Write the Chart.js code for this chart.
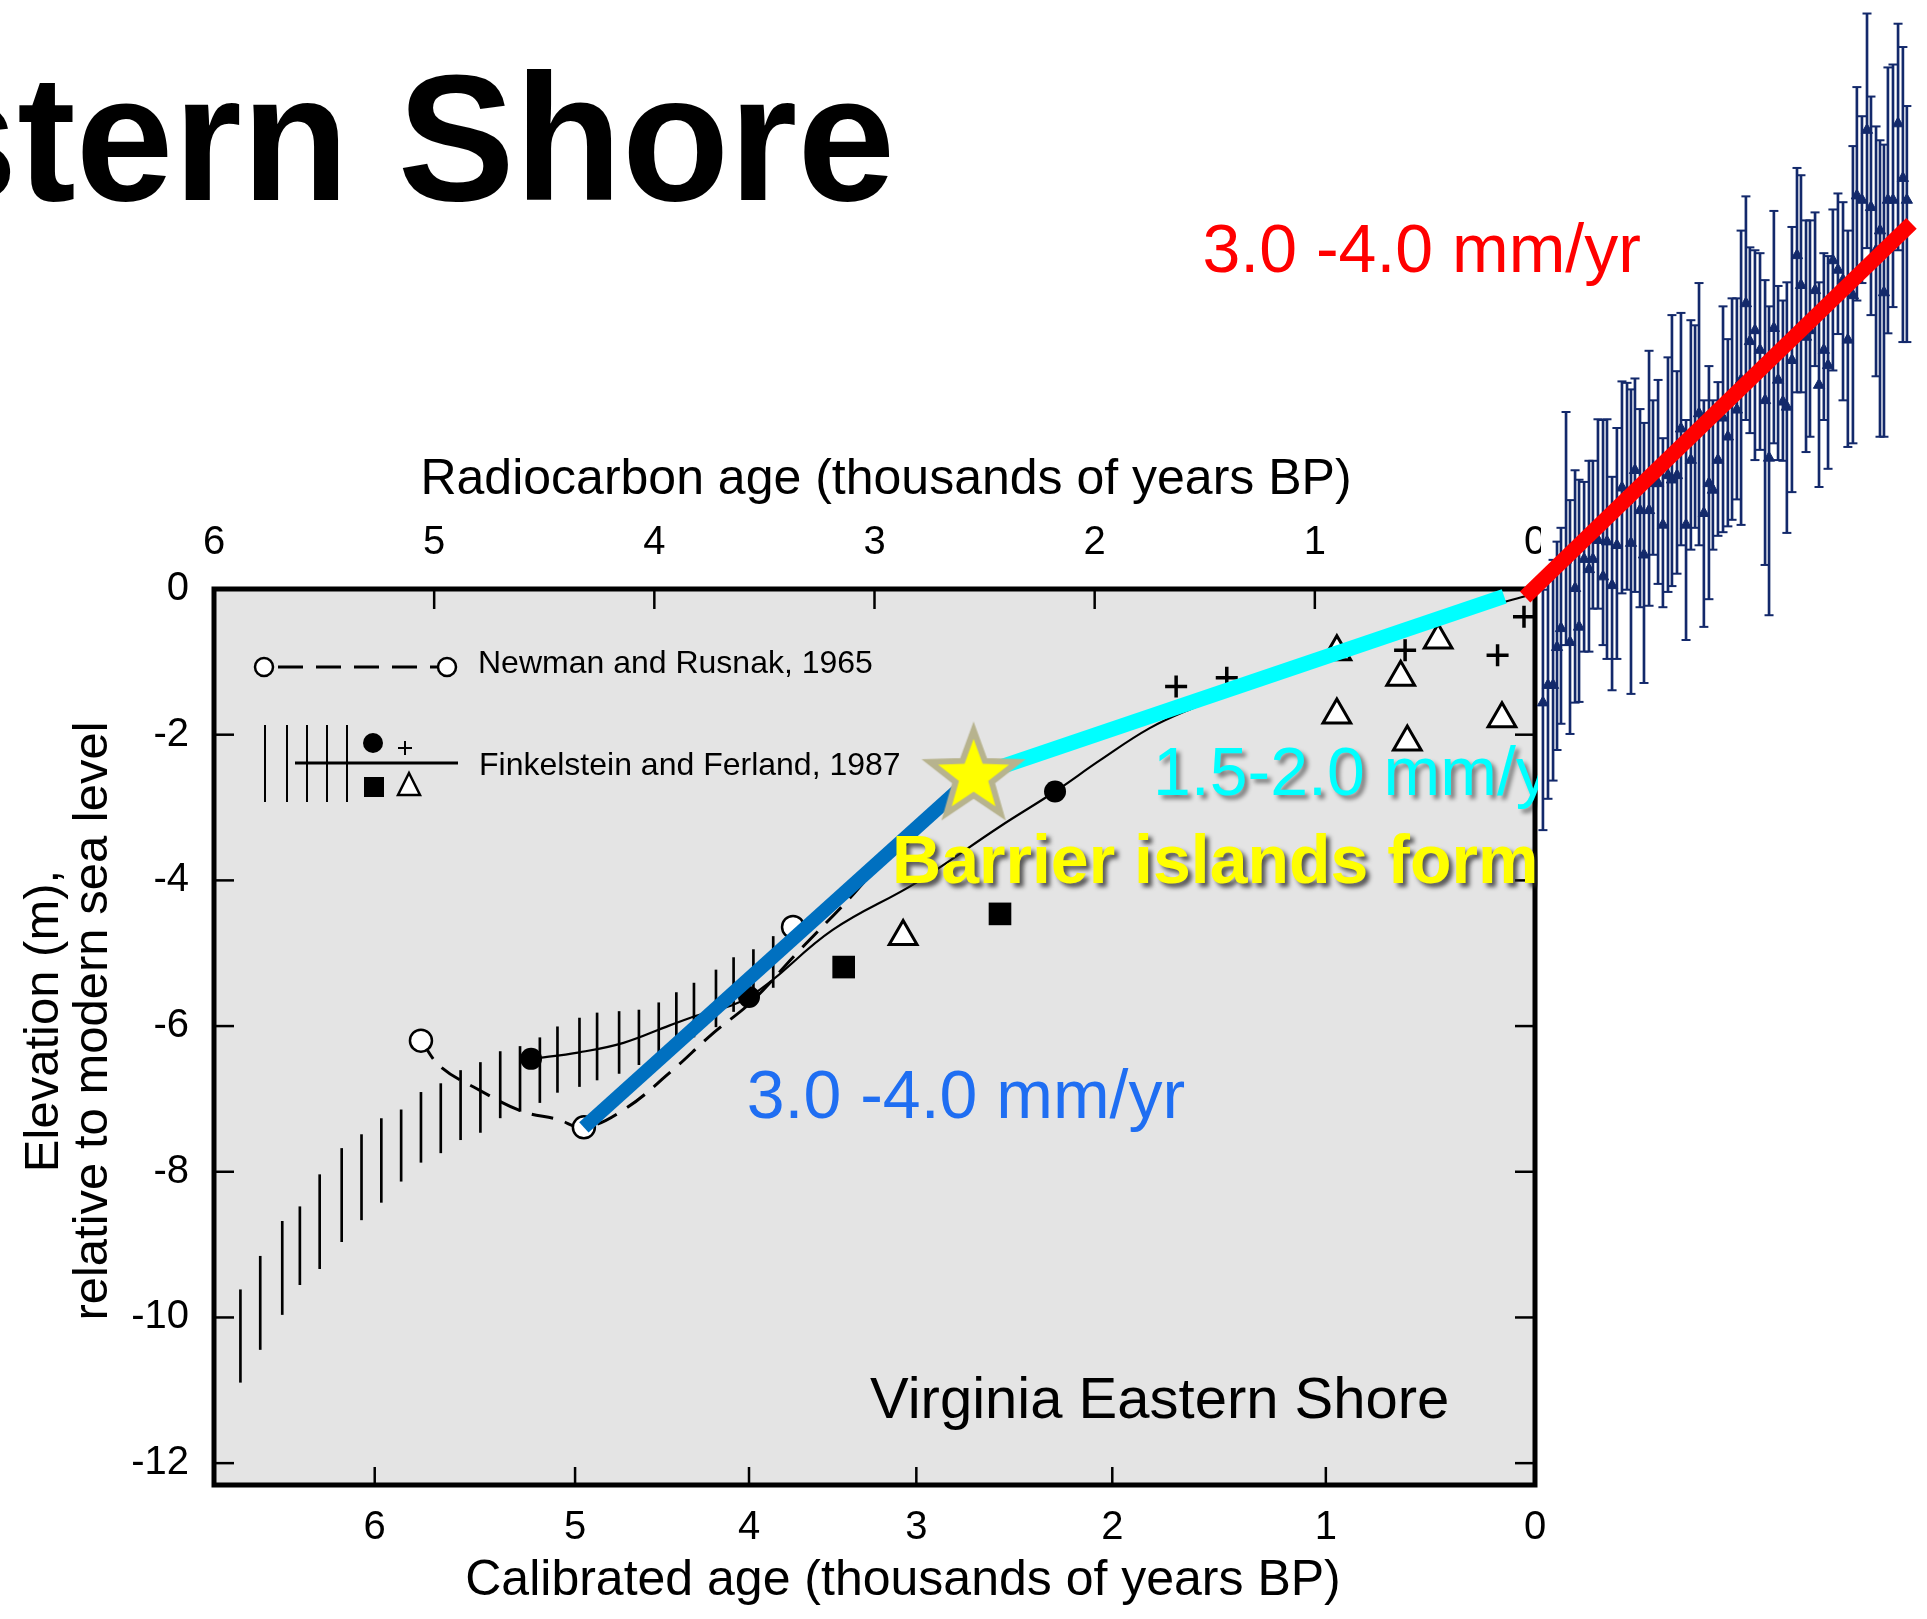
<!DOCTYPE html>
<html>
<head>
<meta charset="utf-8">
<title>Virginia Eastern Shore relative sea level</title>
<script src="https://cdn.jsdelivr.net/npm/chart.js@4.4.1/dist/chart.umd.min.js"></script>
<style>
  html, body { margin: 0; padding: 0; background: #fff; overflow: hidden; }
  canvas { display: block; }
</style>
</head>
<body>
<canvas id="chart" width="1927" height="1619"></canvas>
<script>
// x = radiocarbon age (thousands of years BP), y = elevation (m) rel. to modern sea level

const radiocarbonTicks = [0, 1, 2, 3, 4, 5, 6];
const elevationTicks = [0, -2, -4, -6, -8, -10, -12];
// calibrated age labels and where they sit on the radiocarbon scale
const calibratedLabels = ['6', '5', '4', '3', '2', '1', '0'];
const calibratedAt = [5.27, 4.36, 3.57, 2.81, 1.92, 0.95, 0];

// Newman and Rusnak, 1965
const newmanAge = [5.06, 4.32, 3.37];
const newmanElev = [-6.20, -7.39, -4.64];
const newmanCurveAge = [5.06, 4.97, 4.80, 4.60, 4.44, 4.32, 4.14, 3.93, 3.73, 3.56, 3.35, 3.12, 3.01, 2.79, 2.60];
const newmanCurveElev = [-6.20, -6.56, -6.87, -7.17, -7.28, -7.39, -7.15, -6.64, -6.09, -5.67, -4.99, -4.27, -3.90, -3.24, -2.69];

// Finkelstein and Ferland, 1987
const envelopeAge = [5.88, 5.79, 5.69, 5.61, 5.52, 5.42, 5.33, 5.24, 5.15, 5.06, 4.97, 4.88, 4.79, 4.70,
  4.61, 4.52, 4.44, 4.34, 4.26, 4.16, 4.07, 3.98, 3.90, 3.82, 3.72, 3.64, 3.55, 3.46];
const envelopeLow = [-10.89, -10.44, -9.96, -9.55, -9.33, -8.96, -8.66, -8.42, -8.13, -7.87, -7.74, -7.56, -7.46, -7.26,
  -7.17, -7.05, -6.91, -6.83, -6.74, -6.65, -6.53, -6.43, -6.30, -6.15, -6.01, -5.80, -5.60, -5.47];
const envelopeHigh = [-9.62, -9.16, -8.68, -8.48, -8.04, -7.68, -7.49, -7.27, -7.15, -6.91, -6.79, -6.61, -6.50, -6.35,
  -6.28, -6.16, -6.01, -5.89, -5.82, -5.80, -5.78, -5.68, -5.54, -5.41, -5.23, -5.06, -4.95, -4.77];
const curveAge = [4.56, 4.34, 4.14, 3.93, 3.83, 3.57, 3.19, 2.81, 2.43, 2.18, 1.975, 1.75, 1.55, 1.15, 0.83, 0.27, 0.045];
const curveElev = [-6.45, -6.36, -6.23, -5.99, -5.88, -5.60, -4.68, -4.03, -3.26, -2.78, -2.35, -1.91, -1.63, -1.14, -0.84, -0.29, -0.10];
const circleAge = [4.56, 3.57, 2.18];
const circleElev = [-6.45, -5.60, -2.78];
const squareAge = [3.14, 2.43];
const squareElev = [-5.19, -4.46];
const triangleAge = [2.87, 0.90, 0.61, 0.44, 0.90, 0.58, 0.15];
const triangleElev = [-4.77, -0.86, -1.21, -0.70, -1.73, -2.10, -1.78];
const plusAge = [1.63, 1.40, 0.59, 0.17, 0.05];
const plusElev = [-1.34, -1.22, -0.84, -0.91, -0.38];

// rate lines and barrier island star
const earlyRateAge = [4.32, 2.55];
const earlyRateElev = [-7.39, -2.57];
const lateRateAge = [2.55, 0.14];
const lateRateElev = [-2.57, -0.10];
const modernRateAge = [0.045, -1.71];
const modernRateElev = [-0.11, 5.02];
const barrierAge = [2.55];
const barrierElev = [-2.57];

// tide gauge record pasted at the right
const gaugeAge = [-0.036, -0.059, -0.082, -0.100, -0.118, -0.141, -0.159, -0.182, -0.200, -0.223,
  -0.245, -0.263, -0.286, -0.309, -0.327, -0.350, -0.372, -0.395, -0.418, -0.436,
  -0.454, -0.477, -0.495, -0.518, -0.536, -0.559, -0.581, -0.604, -0.622, -0.645,
  -0.663, -0.686, -0.708, -0.727, -0.745, -0.767, -0.790, -0.808, -0.831, -0.854,
  -0.876, -0.895, -0.917, -0.936, -0.958, -0.976, -0.999, -1.022, -1.045, -1.063,
  -1.085, -1.104, -1.126, -1.144, -1.167, -1.190, -1.208, -1.231, -1.249, -1.272,
  -1.290, -1.312, -1.331, -1.353, -1.376, -1.399, -1.421, -1.444, -1.462, -1.485,
  -1.508, -1.526, -1.549, -1.567, -1.585, -1.603, -1.626, -1.649, -1.671, -1.689];
const gaugeLevel = [-1.56, -1.32, -1.32, -0.80, -0.54, 0.40, -0.73, 0.01, -0.52, 0.41,
  0.27, 0.41, 0.67, 0.17, 0.65, 0.05, 0.60, 1.39, 1.22, 0.63,
  1.63, 1.08, 0.47, 1.08, 1.45, 1.45, 0.88, 1.56, 1.50, 1.56,
  2.20, 0.88, 1.77, 2.18, 2.41, 1.04, 1.45, 1.36, 1.77, 2.35,
  2.09, 2.59, 2.46, 2.87, 3.92, 3.40, 3.55, 3.28, 2.59, 1.80,
  3.58, 2.87, 2.57, 2.50, 3.14, 4.58, 4.17, 3.46, 3.55, 4.10,
  2.80, 3.28, 3.07, 4.51, 4.38, 4.24, 3.42, 4.03, 5.40, 5.34,
  6.30, 5.24, 4.65, 4.92, 4.07, 5.34, 5.34, 6.39, 5.64, 5.34];
const gaugeLow = [-3.31, -2.88, -2.63, -2.21, -1.85, -0.77, -1.99, -1.56, -1.55, -0.86,
  -0.86, -0.27, -0.27, -0.77, -0.96, -1.39, -0.96, -0.06, -0.01, -1.44,
  -0.04, -0.25, -1.29, -0.23, 0.47, 0.07, -0.25, -0.04, 0.04, 0.21,
  0.60, -0.70, 0.54, 0.84, 0.60, -0.52, -0.14, 0.54, 0.73, 0.78,
  0.86, 0.95, 1.23, 0.88, 2.32, 2.14, 1.77, 1.91, 0.33, -0.36,
  2.00, 1.77, 1.76, 0.77, 1.33, 2.70, 2.70, 1.88, 2.09, 3.06,
  1.40, 2.32, 1.65, 3.00, 3.50, 2.59, 1.95, 2.00, 3.96, 4.20,
  4.68, 3.76, 2.92, 2.09, 2.09, 3.51, 3.87, 4.65, 3.39, 3.39];
const gaugeHigh = [-0.01, 0.19, 0.40, 0.65, 0.84, 2.43, 1.22, 1.63, 1.50, 1.47,
  1.76, 1.76, 2.33, 2.32, 2.33, 1.54, 2.21, 2.85, 2.83, 2.74,
  2.89, 2.47, 2.28, 3.27, 2.59, 2.87, 2.07, 3.18, 3.76, 2.99,
  3.79, 2.32, 3.69, 3.62, 4.20, 2.59, 3.06, 2.59, 2.84, 3.88,
  3.43, 3.99, 3.99, 4.92, 5.39, 4.69, 4.65, 4.61, 4.24, 3.88,
  5.19, 4.16, 3.96, 4.21, 4.97, 5.78, 5.68, 5.06, 5.06, 5.17,
  4.21, 4.61, 4.57, 5.21, 5.43, 5.31, 4.92, 6.08, 6.89, 6.49,
  7.90, 6.76, 6.35, 6.16, 6.10, 7.16, 7.20, 7.76, 7.44, 6.63];

const FONT = '"Liberation Sans", Arial, Helvetica, sans-serif';
const NAVY = '#13296b';

const pts = (xs, ys) => xs.map((x, i) => ({ x: x, y: ys[i] }));
const ranges = (xs, lo, hi) => xs.map((x, i) => ({ x: x, y: [lo[i], hi[i]] }));

// labels written on the figure, anchored at data coordinates
const notes = [
  { text: '3.0 -4.0 mm/yr', age: 1.51, elev: 4.35, color: '#ff0000', font: '68px ' + FONT },
  { text: '3.0 -4.0 mm/yr', age: 3.58, elev: -7.26, color: '#1f6ef2', font: '68px ' + FONT },
  { text: '1.5-2.0 mm/yr', age: 1.735, elev: -2.83, color: '#00ffff', font: '68px ' + FONT,
    shadow: 'rgba(0,0,0,0.45)', clip: true },
  { text: 'Barrier islands form', age: 2.92, elev: -4.03, color: '#ffff00', font: 'bold 68px ' + FONT,
    shadow: 'rgba(40,40,40,0.75)', clip: true },
  { text: 'Virginia Eastern Shore', age: 3.02, elev: -11.38, color: '#000', font: '58px ' + FONT }
];

function makeStar(outer, inner, fill, stroke, lw) {
  const size = Math.ceil(2 * outer + 2 * lw + 6);
  const c = document.createElement('canvas');
  c.width = c.height = size;
  const g = c.getContext('2d');
  g.translate(size / 2, size / 2);
  g.beginPath();
  for (let i = 0; i < 10; i++) {
    const r = i % 2 ? inner : outer;
    const a = -Math.PI / 2 + i * Math.PI / 5;
    g.lineTo(r * Math.cos(a), r * Math.sin(a));
  }
  g.closePath();
  g.fillStyle = fill;
  g.fill();
  g.lineWidth = lw;
  g.strokeStyle = stroke;
  g.stroke();
  return c;
}

function seg(ctx, x1, y1, x2, y2) {
  ctx.beginPath();
  ctx.moveTo(x1, y1);
  ctx.lineTo(x2, y2);
  ctx.stroke();
}

function drawLegend(ctx, a) {
  const L = a.left, T = a.top;
  ctx.save();
  ctx.strokeStyle = '#000';
  ctx.fillStyle = '#000';

  // Newman and Rusnak row
  ctx.lineWidth = 3;
  ctx.setLineDash([25, 13]);
  ctx.lineDashOffset = -14;
  seg(ctx, L + 50, T + 78, L + 233, T + 78);
  ctx.setLineDash([]);
  [L + 50, L + 233].forEach(cx => {
    ctx.beginPath();
    ctx.arc(cx, T + 78, 9, 0, Math.PI * 2);
    ctx.fillStyle = '#fff';
    ctx.fill();
    ctx.lineWidth = 2.5;
    ctx.stroke();
  });
  ctx.fillStyle = '#000';
  ctx.font = '32px ' + FONT;
  ctx.textBaseline = 'alphabetic';
  ctx.fillText('Newman and Rusnak, 1965', L + 264, T + 84);

  // Finkelstein and Ferland row
  ctx.lineWidth = 2;
  [51, 73, 93, 113, 133].forEach(dx => seg(ctx, L + dx, T + 136, L + dx, T + 213));
  ctx.lineWidth = 3;
  seg(ctx, L + 81, T + 174, L + 244, T + 174);
  ctx.beginPath();
  ctx.arc(L + 159, T + 154, 10, 0, Math.PI * 2);
  ctx.fill();
  ctx.lineWidth = 2;
  seg(ctx, L + 184, T + 159, L + 198, T + 159);
  seg(ctx, L + 191, T + 152, L + 191, T + 166);
  ctx.fillRect(L + 150, T + 188, 20, 20);
  ctx.beginPath();
  ctx.moveTo(L + 195, T + 184);
  ctx.lineTo(L + 206, T + 206);
  ctx.lineTo(L + 184, T + 206);
  ctx.closePath();
  ctx.fillStyle = '#fff';
  ctx.fill();
  ctx.lineWidth = 2.5;
  ctx.stroke();
  ctx.fillStyle = '#000';
  ctx.fillText('Finkelstein and Ferland, 1987', L + 265, T + 186);
  ctx.restore();
}

const figure = {
  id: 'figure',
  beforeDraw(chart) {
    const { ctx, chartArea: a } = chart;
    ctx.save();
    ctx.fillStyle = '#e4e4e4';
    ctx.fillRect(a.left, a.top, a.right - a.left, a.bottom - a.top);
    ctx.restore();
  },
  beforeDatasetsDraw(chart) {
    const { ctx, chartArea: a } = chart;
    const sx = chart.scales.x, sc = chart.scales.xc, sy = chart.scales.y;
    ctx.save();

    // white backing of the tide gauge panel
    ctx.fillStyle = '#fff';
    ctx.fillRect(a.right + 6, 0, chart.width - a.right, 860);

    // inward tick marks
    ctx.strokeStyle = '#000';
    ctx.lineWidth = 2.5;
    radiocarbonTicks.filter(v => v > 0 && v < 6).forEach(v => {
      const px = sx.getPixelForValue(v);
      seg(ctx, px, a.top, px, a.top + 20);
    });
    calibratedAt.filter(v => v > 0).forEach(v => {
      const px = sc.getPixelForValue(v);
      seg(ctx, px, a.bottom, px, a.bottom - 18);
    });
    elevationTicks.filter(v => v < 0).forEach(v => {
      const py = sy.getPixelForValue(v);
      seg(ctx, a.left, py, a.left + 20, py);
      seg(ctx, a.right, py, a.right - 20, py);
    });

    // frame
    ctx.lineWidth = 5;
    ctx.strokeRect(a.left, a.top, a.right - a.left, a.bottom - a.top);

    drawLegend(ctx, a);

    // slide title (runs off the left edge), axis titles
    ctx.fillStyle = '#000';
    ctx.textBaseline = 'alphabetic';
    ctx.save();
    ctx.translate(895, 200);
    ctx.scale(0.975, 1);
    ctx.font = 'bold 180px ' + FONT;
    ctx.textAlign = 'right';
    ctx.fillText('Eastern Shore', 0, 0);
    ctx.restore();

    ctx.textAlign = 'center';
    ctx.font = '50px ' + FONT;
    ctx.fillText('Radiocarbon age (thousands of years BP)', 886, 494);
    ctx.fillText('Calibrated age (thousands of years BP)', 903, 1595);

    ctx.font = '49px ' + FONT;
    [['Elevation (m),', 58], ['relative to modern sea level', 107]].forEach(([t, bx]) => {
      ctx.save();
      ctx.translate(bx, 1021);
      ctx.rotate(-Math.PI / 2);
      ctx.fillText(t, 0, 0);
      ctx.restore();
    });
    ctx.restore();
  },
  afterDatasetDraw(chart, args) {
    // the library skips points outside the chart area; the gauge panel sits there
    const ds = chart.data.datasets[args.index];
    if (!ds.drawOutside) return;
    args.meta.data.forEach(el => el.draw(chart.ctx));
  },
  afterDatasetsDraw(chart) {
    const { ctx, chartArea: a } = chart;
    const sx = chart.scales.x, sy = chart.scales.y;
    notes.forEach(n => {
      ctx.save();
      if (n.clip) {
        ctx.beginPath();
        ctx.rect(a.left, a.top, a.right + 3 - a.left, a.bottom - a.top);
        ctx.clip();
      }
      if (n.shadow) {
        ctx.shadowColor = n.shadow;
        ctx.shadowOffsetX = 4;
        ctx.shadowOffsetY = 4;
        ctx.shadowBlur = 4;
      }
      ctx.font = n.font;
      ctx.fillStyle = n.color;
      ctx.textAlign = 'left';
      ctx.textBaseline = 'alphabetic';
      ctx.fillText(n.text, sx.getPixelForValue(n.age), sy.getPixelForValue(n.elev));
      ctx.restore();
    });
  }
};

Chart.defaults.font.family = FONT;
Chart.defaults.color = '#000';

const datasets = [
  { type: 'line', label: 'Tide gauge trend', data: pts(modernRateAge, modernRateElev),
    borderColor: '#ff0000', borderWidth: 15, borderCapStyle: 'butt', pointRadius: 0, clip: false },
  { type: 'scatter', label: 'Tide gauge', data: pts(gaugeAge, gaugeLevel), drawOutside: true,
    pointStyle: 'triangle', pointRadius: 6.5, backgroundColor: NAVY, borderColor: NAVY, borderWidth: 1, clip: false },
  { type: 'scatter', label: 'Tide gauge error', data: pts(gaugeAge, gaugeLow).concat(pts(gaugeAge, gaugeHigh)),
    drawOutside: true, pointStyle: 'line', pointRadius: 4.5, borderColor: NAVY, borderWidth: 2, clip: false },
  { type: 'bar', label: 'Tide gauge range', data: ranges(gaugeAge, gaugeLow, gaugeHigh),
    backgroundColor: NAVY, borderWidth: 0, barThickness: 2, grouped: false, clip: false },
  { type: 'scatter', label: 'Barrier islands form', data: pts(barrierAge, barrierElev),
    pointStyle: makeStar(46, 19, '#ffff00', '#b7b38e', 6), pointRadius: 40 },
  { type: 'line', label: '1.5-2.0 mm/yr', data: pts(lateRateAge, lateRateElev),
    borderColor: '#00ffff', borderWidth: 15, borderCapStyle: 'butt', pointRadius: 0 },
  { type: 'line', label: '3.0-4.0 mm/yr', data: pts(earlyRateAge, earlyRateElev),
    borderColor: '#0070c0', borderWidth: 14, borderCapStyle: 'butt', pointRadius: 0 },
  { type: 'scatter', label: 'Newman and Rusnak, 1965', data: pts(newmanAge, newmanElev),
    pointStyle: 'circle', pointRadius: 11, backgroundColor: '#fff', borderColor: '#000', borderWidth: 2.5 },
  { type: 'scatter', label: 'F&F plus', data: pts(plusAge, plusElev),
    pointStyle: 'cross', pointRadius: 11, borderColor: '#000', borderWidth: 3.5 },
  { type: 'scatter', label: 'F&F triangle', data: pts(triangleAge, triangleElev),
    pointStyle: 'triangle', pointRadius: 16, backgroundColor: '#fff', borderColor: '#000', borderWidth: 3 },
  { type: 'scatter', label: 'F&F square', data: pts(squareAge, squareElev),
    pointStyle: 'rect', pointRadius: 16, backgroundColor: '#000', borderColor: '#000', borderWidth: 0 },
  { type: 'scatter', label: 'F&F circle', data: pts(circleAge, circleElev),
    pointStyle: 'circle', pointRadius: 11, backgroundColor: '#000', borderColor: '#000', borderWidth: 0 },
  { type: 'line', label: 'Newman curve', data: pts(newmanCurveAge, newmanCurveElev),
    borderColor: '#000', borderWidth: 3, borderDash: [22, 12], tension: 0.4, pointRadius: 0 },
  { type: 'line', label: 'Finkelstein curve', data: pts(curveAge, curveElev),
    borderColor: '#000', borderWidth: 2.2, tension: 0.4, pointRadius: 0 },
  { type: 'bar', label: 'Finkelstein envelope', data: ranges(envelopeAge, envelopeLow, envelopeHigh),
    backgroundColor: '#000', borderWidth: 0, barThickness: 2, grouped: false }
];
datasets.forEach(d => { d.xAxisID = 'x'; d.yAxisID = 'y'; });

new Chart(document.getElementById('chart'), {
  type: 'scatter',
  data: { datasets: datasets },
  plugins: [figure],
  options: {
    responsive: false,
    animation: false,
    devicePixelRatio: 1,
    events: [],
    layout: { padding: { left: 0, top: 0, right: 392, bottom: 0 } },
    plugins: {
      legend: { display: false },
      tooltip: { enabled: false }
    },
    scales: {
      x: {
        type: 'linear', position: 'top', min: 0, max: 6, reverse: true, offset: false,
        grid: { display: false, drawTicks: false }, border: { display: false },
        ticks: { font: { size: 40 }, color: '#000', padding: 22, maxRotation: 0, autoSkip: false },
        afterBuildTicks: s => { s.ticks = radiocarbonTicks.map(v => ({ value: v })); },
        afterFit: s => { s.height = 589; }
      },
      xc: {
        type: 'linear', position: 'bottom', min: 0, max: 6, reverse: true, offset: false,
        grid: { display: false, drawTicks: false }, border: { display: false },
        ticks: { font: { size: 40 }, color: '#000', padding: 19, maxRotation: 0, autoSkip: false,
          callback: (v, i) => calibratedLabels[i] },
        afterBuildTicks: s => { s.ticks = calibratedAt.map(v => ({ value: v })); },
        afterFit: s => { s.height = 134; }
      },
      y: {
        type: 'linear', position: 'left', min: -12.3, max: 0,
        grid: { display: false, drawTicks: false }, border: { display: false },
        ticks: { font: { size: 40 }, color: '#000', padding: 25 },
        afterBuildTicks: s => { s.ticks = elevationTicks.map(v => ({ value: v })); },
        afterFit: s => { s.width = 214; }
      }
    }
  }
});
</script>
</body>
</html>
